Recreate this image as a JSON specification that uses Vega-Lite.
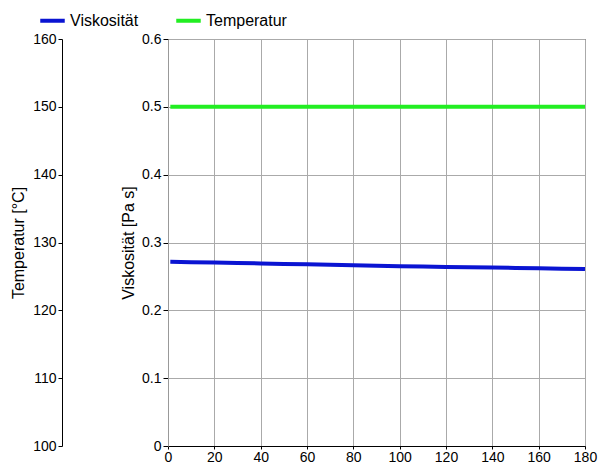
{
  "$schema": "https://vega.github.io/schema/vega-lite/v6.json",
  "width": 417,
  "height": 407,
  "padding": {"left": 168, "top": 39, "right": 13, "bottom": 24},
  "autosize": {"type": "none"},
  "background": "white",
  "config": {
    "font": "Liberation Sans",
    "view": {"stroke": "#222", "strokeWidth": 1},
    "axis": {"labelFont": "Liberation Sans", "titleFont": "Liberation Sans", "labelFontSize": 14, "titleFontSize": 16, "titleFontWeight": "normal", "labelColor": "#000", "titleColor": "#000"}
  },
  "data": {"values": [
    {"t": 1, "value": 0.2715, "series": "Viskosität"},
    {"t": 10, "value": 0.271, "series": "Viskosität"},
    {"t": 20, "value": 0.2705, "series": "Viskosität"},
    {"t": 30, "value": 0.2698, "series": "Viskosität"},
    {"t": 40, "value": 0.2692, "series": "Viskosität"},
    {"t": 50, "value": 0.2684, "series": "Viskosität"},
    {"t": 60, "value": 0.2678, "series": "Viskosität"},
    {"t": 70, "value": 0.2671, "series": "Viskosität"},
    {"t": 80, "value": 0.2665, "series": "Viskosität"},
    {"t": 90, "value": 0.2658, "series": "Viskosität"},
    {"t": 100, "value": 0.2651, "series": "Viskosität"},
    {"t": 110, "value": 0.2645, "series": "Viskosität"},
    {"t": 120, "value": 0.2638, "series": "Viskosität"},
    {"t": 130, "value": 0.2634, "series": "Viskosität"},
    {"t": 140, "value": 0.263, "series": "Viskosität"},
    {"t": 150, "value": 0.2625, "series": "Viskosität"},
    {"t": 160, "value": 0.2619, "series": "Viskosität"},
    {"t": 170, "value": 0.2614, "series": "Viskosität"},
    {"t": 180, "value": 0.2608, "series": "Viskosität"},
    {"t": 1, "value": 150.0, "series": "Temperatur"},
    {"t": 20, "value": 150.0, "series": "Temperatur"},
    {"t": 40, "value": 150.0, "series": "Temperatur"},
    {"t": 60, "value": 150.0, "series": "Temperatur"},
    {"t": 80, "value": 150.0, "series": "Temperatur"},
    {"t": 100, "value": 150.0, "series": "Temperatur"},
    {"t": 120, "value": 150.0, "series": "Temperatur"},
    {"t": 140, "value": 150.0, "series": "Temperatur"},
    {"t": 160, "value": 150.0, "series": "Temperatur"},
    {"t": 180, "value": 150.0, "series": "Temperatur"}
  ]},
  "layer": [
    {
      "transform": [{"filter": "datum.series === 'Viskosität'"}],
      "mark": {"type": "line", "strokeWidth": 4, "clip": true},
      "encoding": {
        "x": {"field": "t", "type": "quantitative", "scale": {"domain": [0, 180], "nice": false, "zero": false},
          "axis": {"title": null, "values": [0,20,40,60,80,100,120,140,160,180], "grid": true, "gridColor": "#aaa", "gridOpacity": 1, "domainColor": "#000", "tickColor": "#000", "tickSize": 3, "labelPadding": 1, "labelFlush": false}},
        "y": {"field": "value", "type": "quantitative", "scale": {"domain": [0, 0.6], "nice": false},
          "axis": {"title": "Viskosität [Pa s]", "orient": "left", "values": [0,0.1,0.2,0.3,0.4,0.5,0.6], "format": "~g", "grid": true, "gridColor": "#aaa", "gridOpacity": 1, "domainColor": "#999", "tickColor": "#000", "tickSize": 5, "labelPadding": 2, "titlePadding": 5}},
        "color": {"field": "series", "type": "nominal",
          "scale": {"domain": ["Viskosität", "Temperatur"], "range": ["#0a14d2", "#22ee22"]},
          "legend": {"title": null, "orient": "none", "legendX": -130, "legendY": -33, "direction": "horizontal", "symbolType": "stroke", "symbolStrokeWidth": 4, "symbolSize": 600, "labelFont": "Liberation Sans", "labelFontSize": 16, "labelColor": "#000", "labelOffset": 3, "columnPadding": 29, "padding": 0}}
      }
    },
    {
      "transform": [{"filter": "datum.series === 'Temperatur'"}],
      "mark": {"type": "line", "strokeWidth": 4, "clip": true},
      "encoding": {
        "x": {"field": "t", "type": "quantitative"},
        "y": {"field": "value", "type": "quantitative", "scale": {"domain": [100, 160], "nice": false, "zero": false},
          "axis": {"title": "Temperatur [°C]", "orient": "left", "offset": 106, "values": [100,110,120,130,140,150,160], "grid": false, "domainColor": "#000", "tickColor": "#000", "tickSize": 4, "labelPadding": 2, "titlePadding": 6}},
        "color": {"field": "series", "type": "nominal"}
      }
    }
  ],
  "resolve": {"scale": {"y": "independent"}}
}
